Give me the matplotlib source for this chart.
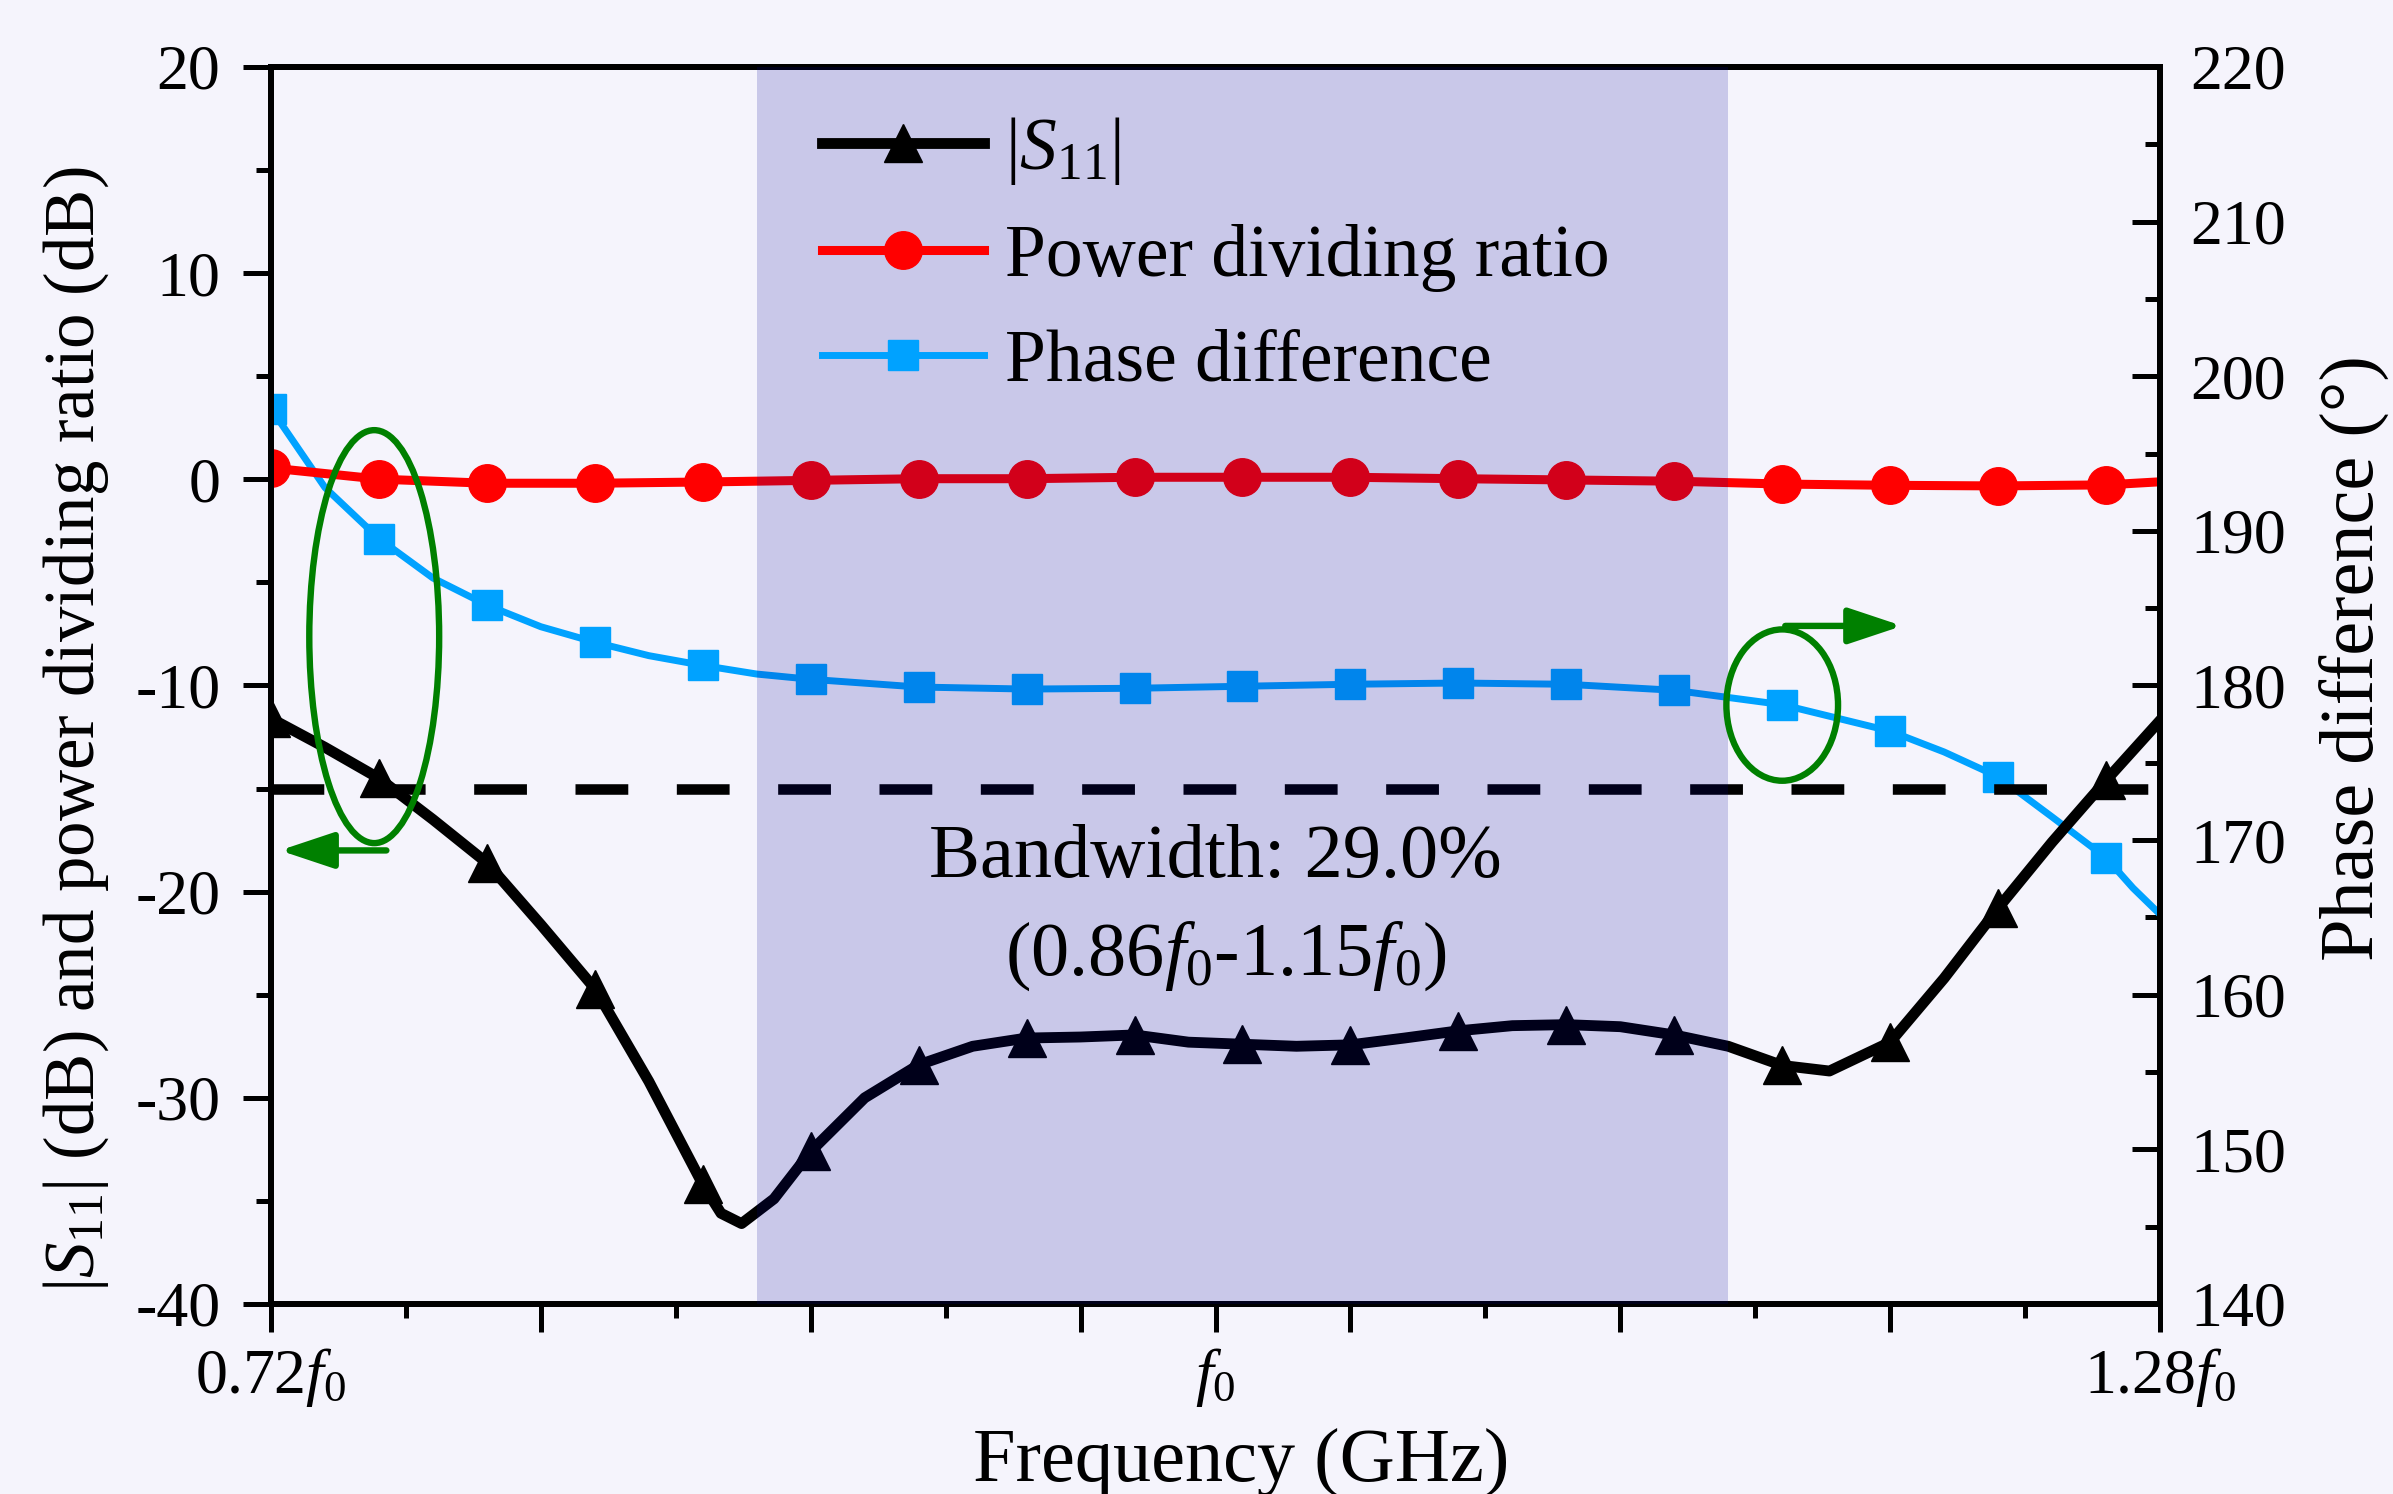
import numpy as np
import matplotlib
matplotlib.use("Agg")
import matplotlib.pyplot as plt
from matplotlib.patches import Ellipse
from matplotlib.ticker import FixedLocator, MultipleLocator

plt.rcParams['font.family'] = ['Liberation Serif', 'DejaVu Serif']
plt.rcParams['mathtext.fontset'] = 'custom'
plt.rcParams['mathtext.rm'] = 'Liberation Serif'
plt.rcParams['mathtext.it'] = 'Liberation Serif:italic'
plt.rcParams['mathtext.bf'] = 'Liberation Serif:bold'
plt.rcParams['axes.unicode_minus'] = False

# ---------------- data (normalised frequency f/f0) ----------------
marker_freq = [0.720, 0.752, 0.784, 0.816, 0.848, 0.880, 0.912, 0.944, 0.976,
               1.008, 1.040, 1.072, 1.104, 1.136, 1.168, 1.200, 1.232, 1.264]

s11_freq = [0.720, 0.736, 0.752, 0.768, 0.784, 0.800, 0.816, 0.832, 0.848, 0.8534,
            0.8595, 0.8691, 0.880, 0.896, 0.912, 0.928, 0.944, 0.960, 0.976, 0.992,
            1.008, 1.024, 1.040, 1.056, 1.072, 1.088, 1.104, 1.120, 1.136, 1.152,
            1.168, 1.182, 1.200, 1.216, 1.232, 1.248, 1.264, 1.280]
s11_db = [-11.6, -13.0, -14.5, -16.5, -18.6, -21.6, -24.7, -29.2, -34.2, -35.6,
          -36.1, -34.9, -32.6, -30.0, -28.4, -27.5, -27.1, -27.05, -26.95, -27.3,
          -27.4, -27.5, -27.43, -27.1, -26.75, -26.5, -26.45, -26.55, -26.95, -27.5,
          -28.43, -28.7, -27.3, -24.2, -20.8, -17.6, -14.6, -11.7]

pdr_freq = [0.720, 0.752, 0.784, 0.816, 0.848, 0.880, 0.912, 0.944, 0.976, 1.008,
            1.040, 1.072, 1.104, 1.136, 1.168, 1.200, 1.232, 1.264, 1.280]
pdr_db = [0.55, 0.01, -0.19, -0.19, -0.13, -0.05, 0.03, 0.03, 0.10, 0.10,
          0.10, 0.03, -0.03, -0.09, -0.23, -0.29, -0.32, -0.27, -0.12]

phase_freq = [0.720, 0.736, 0.752, 0.768, 0.784, 0.800, 0.816, 0.832, 0.848, 0.864,
              0.880, 0.912, 0.944, 0.976, 1.008, 1.040, 1.072, 1.104, 1.136, 1.168,
              1.200, 1.216, 1.232, 1.248, 1.264, 1.272, 1.280]
phase_deg = [197.9, 192.8, 189.5, 186.95, 185.2, 183.8, 182.8, 181.93, 181.3, 180.74,
             180.4, 179.9, 179.77, 179.82, 179.95, 180.08, 180.16, 180.08, 179.69, 178.76,
             177.05, 175.7, 174.1, 171.5, 168.86, 166.9, 165.2]

band_range = [0.864, 1.152]
threshold_db = -15

xtick_major = [0.72, 0.80, 0.88, 0.96, 1.00, 1.04, 1.12, 1.20, 1.28]
xtick_labels = ['0.72$f_0$', '', '', '', '$f_0$', '', '', '', '1.28$f_0$']
xtick_minor = [0.76, 0.84, 0.92, 1.08, 1.16, 1.24]
ytick_left = [-40, -30, -20, -10, 0, 10, 20]
ytick_right = [140, 150, 160, 170, 180, 190, 200, 210, 220]

legend_labels = ['$|S_{11}|$', 'Power dividing ratio', 'Phase difference']
bw_text = ['Bandwidth: 29.0%', '(0.86$f_0$-1.15$f_0$)']


def mark_idx(freq):
    return [i for i, f in enumerate(freq) if any(abs(f - m) < 1e-6 for m in marker_freq)]


bg = '#F5F4FC'
fig = plt.figure(figsize=(23.93, 14.94), dpi=100, facecolor=bg)
ax = fig.add_axes([0.11325, 0.12718, 0.78939, 0.82798])
ax2 = ax.twinx()
ax.set_zorder(ax2.get_zorder() + 1)
ax.patch.set_visible(False)
ax2.patch.set_visible(False)

# phase (right axis, drawn below)
l3, = ax2.plot(phase_freq, phase_deg, color='#00A2FF', lw=5, marker='s', ms=21,
               markevery=mark_idx(phase_freq), zorder=2, solid_joinstyle='round')

# left axis
ax.axhline(threshold_db, color='black', lw=7.6, ls=(0, (5.0, 4.6)), zorder=1)
l2, = ax.plot(pdr_freq, pdr_db, color='#FF0000', lw=6.5, marker='o', ms=27,
              markevery=mark_idx(pdr_freq), zorder=2)
l1, = ax.plot(s11_freq, s11_db, color='black', lw=7.8, marker='^', ms=28,
              markevery=mark_idx(s11_freq), zorder=3, solid_joinstyle='round')

ax.axvspan(band_range[0], band_range[1], color='#000094', alpha=0.176, lw=0, zorder=4)

# green annotations
green = '#008000'
ax.add_patch(Ellipse((0.7506, -7.63), 0.0385, 20.03, fill=False, ec=green, lw=4.6, zorder=5))
ax.add_patch(Ellipse((1.1680, -10.95), 0.0331, 7.34, fill=False, ec=green, lw=4.6, zorder=5))
arrow_style = '-|>,head_length=33,head_width=11'
ax.annotate('', xy=(0.7226, -18.0), xytext=(0.7542, -18.0),
            arrowprops=dict(arrowstyle=arrow_style, mutation_scale=1, color=green, lw=4.6,
                            shrinkA=0, shrinkB=0, joinstyle='round'), zorder=5)
ax.annotate('', xy=(1.2036, -7.11), xytext=(1.1689, -7.11),
            arrowprops=dict(arrowstyle=arrow_style, mutation_scale=1, color=green, lw=4.6,
                            shrinkA=0, shrinkB=0, joinstyle='round'), zorder=5)

ax.text(1.000, -19.28, bw_text[0], ha='center', va='baseline', fontsize=55, zorder=6)
ax.text(1.003, -24.03, bw_text[1], ha='center', va='baseline', fontsize=55, zorder=6)

# axes limits & ticks
ax.set_xlim(0.72, 1.28)
ax.set_ylim(-40, 20)
ax2.set_ylim(140, 220)

ax.xaxis.set_major_locator(FixedLocator(xtick_major))
ax.set_xticklabels(xtick_labels)
ax.xaxis.set_minor_locator(FixedLocator(xtick_minor))
ax.set_yticks(ytick_left)
ax.yaxis.set_minor_locator(MultipleLocator(5))
ax2.set_yticks(ytick_right)
ax2.yaxis.set_minor_locator(MultipleLocator(5))

ax.tick_params(axis='x', which='major', direction='out', length=20, width=3.6,
               labelsize=46, pad=10, top=False)
ax.tick_params(axis='x', which='minor', direction='out', length=10, width=3.6, top=False)
ax.tick_params(axis='y', which='major', direction='out', length=20, width=3.6,
               labelsize=46, pad=16.5, right=False)
ax.tick_params(axis='y', which='minor', direction='out', length=10.5, width=3.6, right=False)
ax2.tick_params(axis='y', which='major', direction='in', length=20, width=3.6,
                labelsize=46, pad=22)
ax2.tick_params(axis='y', which='minor', direction='in', length=10.5, width=3.6)

for a in (ax, ax2):
    for s in a.spines.values():
        s.set_linewidth(4.3)

ax.set_xlabel('Frequency (GHz)', fontsize=55)
ax.xaxis.set_label_coords(0.5135, -0.1425)
ax.xaxis.label.set_va('baseline')

ax.set_ylabel('$|S_{11}|$ (dB) and power dividing ratio (dB)', fontsize=51)
ax.yaxis.set_label_coords(-0.0937, 0.465)
ax.yaxis.label.set_va('baseline')

ax2.set_ylabel('Phase difference (°)', fontsize=55)
ax2.yaxis.set_label_coords(1.1133, 0.5224)
ax2.yaxis.label.set_va('baseline')

leg = ax.legend([l1, l2, l3], legend_labels, loc='upper left', bbox_to_anchor=(0.2917, 0.961),
                frameon=False, fontsize=53, handlelength=2.2, handletextpad=0.29,
                labelspacing=0.5, borderpad=0, borderaxespad=0, numpoints=1)
leg.set_zorder(7)

fig.savefig('out.png', dpi=100, facecolor=bg)
